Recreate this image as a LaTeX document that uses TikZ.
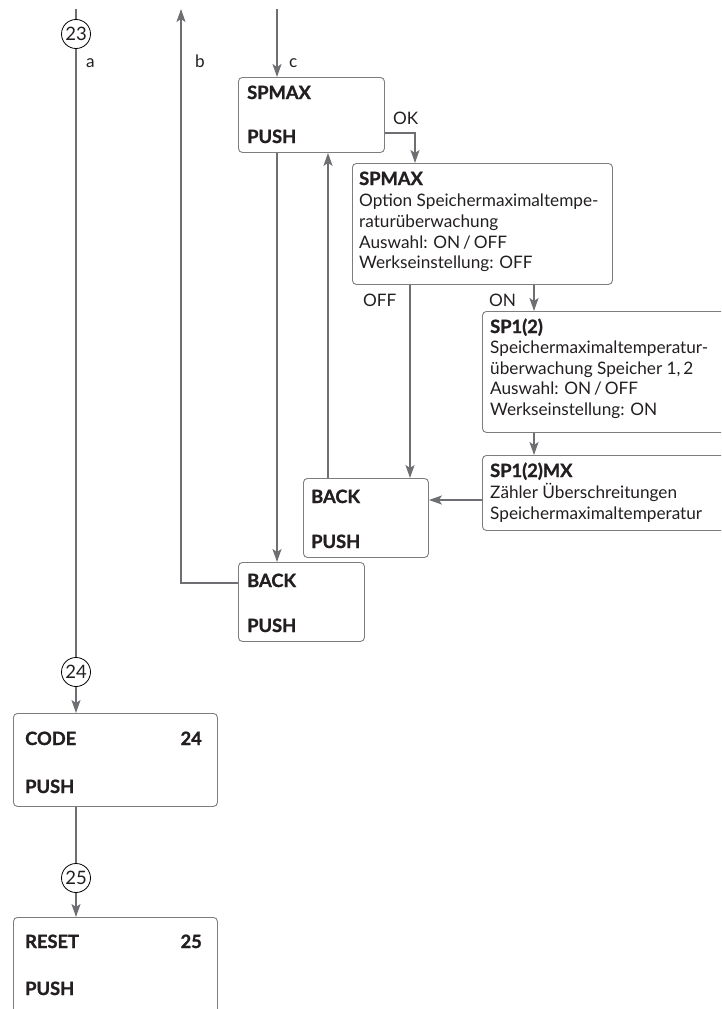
\documentclass[tikz,border=0pt]{standalone}
\usepackage{fontspec}
\setmainfont{Lato}[BoldFeatures={FakeBold=1.2}]
\usetikzlibrary{arrows.meta}
\definecolor{linegray}{RGB}{110,111,114}
\definecolor{boxgray}{RGB}{125,125,128}
\definecolor{txt}{RGB}{35,31,32}
\tikzset{
  conn/.style={draw=linegray, line width=1.8pt},
  arr/.style={conn, -{Stealth[length=13pt,width=9pt,inset=3pt]}},
  box/.style={draw=boxgray, line width=0.9pt, rounded corners=4pt, anchor=north west, inner sep=0pt, fill=white},
  circ/.style={circle, draw=black, line width=0.8pt, minimum size=29pt, inner sep=0pt, fill=white, text=txt, font=\fontsize{18.5}{18}\selectfont},
  tx/.style={anchor=base west, inner sep=0pt, text=txt, font=\fontsize{17.2}{20}\selectfont},
  bx/.style={anchor=base west, inner sep=0pt, text=txt, font=\fontsize{18.3}{20}\selectfont\bfseries},
  bxr/.style={anchor=base east, inner sep=0pt, text=txt, font=\fontsize{18.3}{20}\selectfont\bfseries},
}
\begin{document}
\begin{tikzpicture}[x=1pt,y=-1pt]
\useasboundingbox (0,0) rectangle (721,1009);
\clip (0,0) rectangle (721,1009);
% boxes
\node[box, minimum width=146pt, minimum height=75pt] (spmax) at (238,77) {};
\node[box, minimum width=260pt, minimum height=121pt] (spmaxd) at (352,163) {};
\node[box, minimum width=300pt, minimum height=121pt] (sp12) at (482,311) {};
\node[box, minimum width=300pt, minimum height=75pt] (sp12mx) at (482,455) {};
\node[box, minimum width=125pt, minimum height=79pt] (back1) at (303,478) {};
\node[box, minimum width=126pt, minimum height=79pt] (back2) at (238,562) {};
\node[box, minimum width=204pt, minimum height=93pt] (code) at (13,713) {};
\node[box, minimum width=204pt, minimum height=130pt] (reset) at (13,917) {};
% circles
\node[circ] (c23) at (76,34) {23};
\node[circ] (c24) at (76,672) {24};
\node[circ] (c25) at (76,878) {25};
% free ends
\coordinate (atop) at (76,9);
\coordinate (btop) at (181,9);
\coordinate (ctop) at (277,9);
% connectors
\draw[conn] (atop) -- (c23.north);
\draw[conn] (c23.south) -- (c24.north);
\draw[arr] (c24.south) -- (c24.south |- code.north);
\draw[conn] (c25 |- code.south) -- (c25.north);
\draw[arr] (c25.south) -- (c25.south |- reset.north);
\draw[arr] (back2.west |- 0,583) -| (btop);
\draw[arr] (ctop) -- (ctop |- spmax.north);
\draw[arr] (ctop |- spmax.south) -- (ctop |- back2.north);
\draw[arr] (spmax.east |- 0,133) -| (spmaxd.north -| 415,0);
\draw[arr] (back1.north -| 328,0) -- (spmax.south -| 328,0);
\draw[arr] (spmaxd.south -| 410,0) -- (back1.north -| 410,0);
\draw[arr] (spmaxd.south -| 534,0) -- (sp12.north -| 534,0);
\draw[arr] (sp12.south -| 534,0) -- (sp12mx.north -| 534,0);
\draw[arr] (sp12mx.west |- 0,500) -- (back1.east |- 0,500);
% labels
\node[tx] (la) at (86,67) {a};
\node[tx] (lb) at (195,67) {b};
\node[tx] (lc) at (289,67) {c};
\node[tx] (lok) at (393,124) {OK};
\node[tx] (loff) at (363,306) {OFF};
\node[tx] (lon) at (489,306) {ON};
% SPMAX box
\node[bx] (t1) at (247,99) {SPMAX};
\node[bx] (t2) at (247,143) {PUSH};
% SPMAX detail
\node[bx] (t3) at (359,185) {SPMAX};
\node[tx] (t4) at (359,206) {Option Speichermaximaltempe-};
\node[tx] (t5) at (359,227) {raturüberwachung};
\node[tx] (t6) at (359,248) {Auswahl: ON\,/\,OFF};
\node[tx] (t7) at (359,268.5) {Werkseinstellung: OFF};
% SP1(2)
\node[bx] (t8) at (490,333) {SP1(2)};
\node[tx] (t9) at (490,353.5) {Speichermaximaltemperatur-};
\node[tx] (t10) at (490,374) {überwachung Speicher 1,\,2};
\node[tx] (t11) at (490,394.5) {Auswahl: ON\,/\,OFF};
\node[tx] (t12) at (490,415) {Werkseinstellung: ON};
% SP1(2)MX
\node[bx] (t13) at (490,477) {SP1(2)MX};
\node[tx] (t14) at (490,498) {Zähler Überschreitungen};
\node[tx] (t15) at (490,519) {Speichermaximaltemperatur};
% BACK boxes
\node[bx] (t16) at (311,503) {BACK};
\node[bx] (t17) at (311,548) {PUSH};
\node[bx] (t18) at (247,587) {BACK};
\node[bx] (t19) at (247,632) {PUSH};
% CODE / RESET
\node[bx] (t20) at (25,745) {CODE};
\node[bxr] (t21) at (202,745) {24};
\node[bx] (t22) at (25,793) {PUSH};
\node[bx] (t23) at (25,948) {RESET};
\node[bxr] (t24) at (202,948) {25};
\node[bx] (t25) at (25,995) {PUSH};
\end{tikzpicture}
\end{document}
